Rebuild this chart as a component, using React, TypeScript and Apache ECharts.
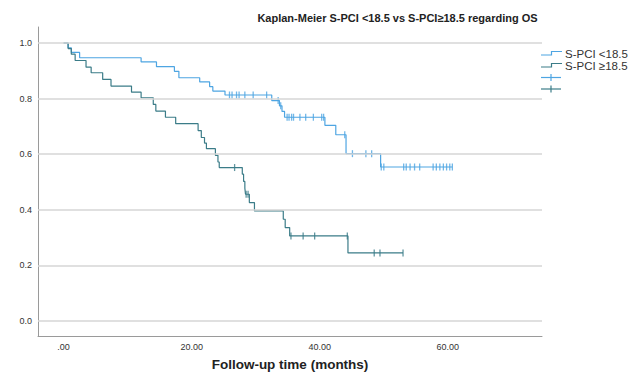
import React, { useEffect, useRef } from "react";
import * as echarts from "echarts";

const xTickValues = [0, 20, 40, 60];
const yTickValues = [0, 0.2, 0.4, 0.6, 0.8, 1.0];

// S-PCI <18.5 : event times (months) and survival after each event
const lowTimes = [0, 0.7, 1.2, 2.5, 12.1, 14.5, 17.3, 18.0, 21.25, 22.8, 23.3, 25.2, 32.5, 33.7, 34.1, 34.5, 40.8, 42.5, 44.1, 49.5];
const lowSurv = [1.0, 0.983, 0.966, 0.947, 0.932, 0.915, 0.898, 0.875, 0.86, 0.843, 0.827, 0.813, 0.793, 0.774, 0.754, 0.733, 0.704, 0.67, 0.602, 0.554];
const lowCensor = [25.9, 26.3, 27.0, 27.4, 28.3, 29.6, 31.7, 33.5, 33.9, 34.9, 35.2, 35.6, 35.9, 36.9, 37.8, 39.0, 40.3, 40.6, 43.9, 45.1, 47.2, 48.1, 49.6, 50.0, 53.1, 53.5, 54.1, 54.8, 55.6, 57.7, 58.2, 58.75, 59.3, 59.8, 60.3, 60.7];

// S-PCI >=18.5
const highTimes = [0, 0.7, 1.2, 1.8, 3.5, 4.3, 6.1, 7.4, 10.6, 12.1, 14.0, 14.4, 15.9, 17.5, 21.0, 21.5, 22.0, 22.3, 23.7, 24.1, 24.3, 27.9, 28.1, 28.3, 28.4, 29.0, 29.8, 34.3, 34.6, 35.3, 44.4];
const highSurv = [1.0, 0.98, 0.96, 0.937, 0.913, 0.893, 0.869, 0.845, 0.823, 0.803, 0.779, 0.755, 0.733, 0.71, 0.685, 0.66, 0.64, 0.62, 0.596, 0.572, 0.552, 0.528, 0.502, 0.478, 0.456, 0.426, 0.396, 0.366, 0.336, 0.306, 0.245];
const highCensor = [26.7, 28.5, 28.8, 35.5, 37.4, 39.2, 44.3, 48.5, 49.4, 53.0];

const seriesNames = ["S-PCI <18.5", "S-PCI \u226518.5"];
const titleText = "Kaplan-Meier S-PCI <18.5 vs S-PCI\u226518.5 regarding OS";
const xName = "Follow-up time (months)";

const BLUE = "#4ea5e2";
const TEAL = "#3b7c88";
const FONT = "'Liberation Sans', Arial, sans-serif";

function survAt(times: number[], surv: number[], t: number) {
  let s = surv[0];
  for (let i = 0; i < times.length; i++) if (times[i] <= t) s = surv[i];
  return s;
}
function curve(times: number[], surv: number[], censor: number[]) {
  const d = times.map((t, i) => [t, surv[i]]);
  const last = censor[censor.length - 1];
  d.push([last, survAt(times, surv, last)]);
  return d;
}
function censorPts(times: number[], surv: number[], censor: number[]) {
  return censor.map((t) => [t, survAt(times, surv, t)]);
}

export default function App() {
  const ref = useRef<HTMLDivElement>(null);
  useEffect(() => {
    if (!ref.current) return;
    const chart = echarts.init(ref.current, undefined, { renderer: "svg" });
    const tick = (col: string, y: number) => [
      { type: "line", shape: { x1: 541, y1: y, x2: 561, y2: y }, style: { stroke: col, lineWidth: 1.2 } },
      { type: "line", shape: { x1: 551, y1: y - 3.5, x2: 551, y2: y + 3.5 }, style: { stroke: col, lineWidth: 1.2 } },
    ];
    const stepIcon = (col: string, y: number) => ({
      type: "polyline",
      shape: { points: [[541, y + 1.5], [551.5, y + 1.5], [551.5, y - 2], [562, y - 2]] },
      style: { stroke: col, lineWidth: 1.2, fill: "none" },
    });
    chart.setOption({
      animation: false,
      grid: { left: 38, right: 100, top: 27, bottom: 38, outerBoundsMode: "none", containLabel: false },
      xAxis: {
        type: "value",
        min: -4,
        max: 74.7,
        axisLine: { show: true, onZero: false, lineStyle: { color: "#9a9a9a", width: 1 } },
        axisTick: { show: false },
        splitLine: { show: false },
        axisLabel: {
          customValues: xTickValues,
          formatter: (v: number) => (v === 0 ? ".00" : v.toFixed(2)),
          color: "#333",
          fontSize: 9,
          fontFamily: FONT,
          margin: 6,
        },
        name: xName,
        nameLocation: "middle",
        nameGap: 21,
        nameTextStyle: { fontSize: 13.5, fontWeight: "bold", color: "#222", fontFamily: FONT },
      },
      yAxis: {
        type: "value",
        min: -0.054,
        max: 1.0576,
        axisLine: { show: true, onZero: false, lineStyle: { color: "#9a9a9a", width: 1 } },
        axisTick: { show: false },
        splitLine: { show: false },
        axisLabel: {
          customValues: yTickValues,
          formatter: (v: number) => v.toFixed(1),
          color: "#333",
          fontSize: 9,
          fontFamily: FONT,
          margin: 6,
        },
      },
      graphic: [
        {
          type: "text",
          x: 397.5,
          y: 18,
          style: { text: titleText, font: `bold 11px ${FONT}`, fill: "#222", align: "center", verticalAlign: "middle" },
        },
        stepIcon(BLUE, 53.5),
        { type: "text", x: 565, y: 53.5, style: { text: seriesNames[0], font: `11.5px ${FONT}`, fill: "#333", verticalAlign: "middle" } },
        stepIcon(TEAL, 65.5),
        { type: "text", x: 565, y: 65.5, style: { text: seriesNames[1], font: `11.5px ${FONT}`, fill: "#333", verticalAlign: "middle" } },
        ...tick(BLUE, 77.5),
        ...tick(TEAL, 89),
      ],
      series: [
        {
          type: "line",
          name: "grid",
          data: [],
          silent: true,
          z: 1,
          markLine: {
            silent: true,
            symbol: "none",
            label: { show: false },
            lineStyle: { color: "#d6d6d6", width: 1.5, type: "solid" },
            data: yTickValues.map((v) => ({ yAxis: v })),
          },
        },
        {
          type: "line",
          name: seriesNames[0],
          step: "end",
          symbol: "none",
          z: 3,
          data: curve(lowTimes, lowSurv, lowCensor),
          lineStyle: { color: BLUE, width: 1.2 },
        },
        {
          type: "scatter",
          name: seriesNames[0] + " censored",
          symbol: "rect",
          symbolSize: [1.3, 7],
          z: 4,
          data: censorPts(lowTimes, lowSurv, lowCensor),
          itemStyle: { color: BLUE },
        },
        {
          type: "line",
          name: seriesNames[1],
          step: "end",
          symbol: "none",
          z: 3,
          data: curve(highTimes, highSurv, highCensor),
          lineStyle: { color: TEAL, width: 1.2 },
        },
        {
          type: "scatter",
          name: seriesNames[1] + " censored",
          symbol: "rect",
          symbolSize: [1.3, 7],
          z: 4,
          data: censorPts(highTimes, highSurv, highCensor),
          itemStyle: { color: TEAL },
        },
      ],
    });
    return () => chart.dispose();
  }, []);
  return <div ref={ref} style={{ position: "fixed", left: 0, top: 0, width: 642, height: 374, background: "#fff" }} />;
}
